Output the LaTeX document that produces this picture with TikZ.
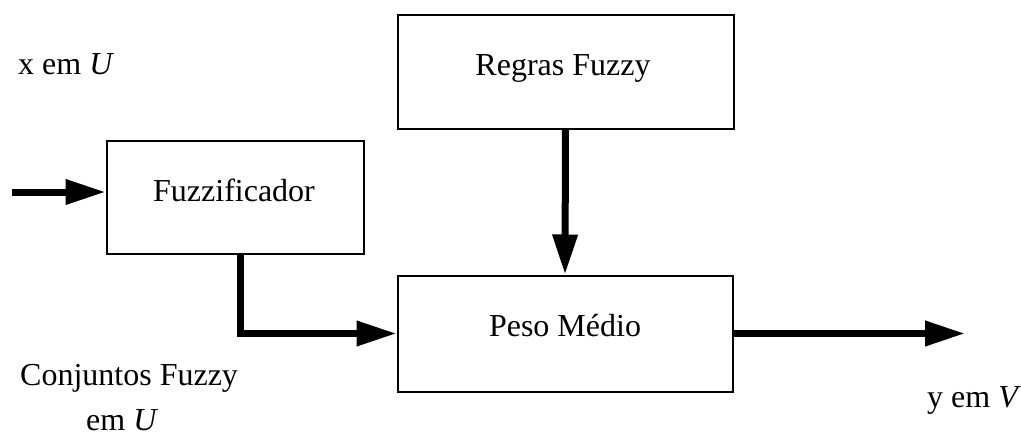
\documentclass[tikz,border=0pt]{standalone}
\usepackage{fontspec}
\setmainfont{Liberation Serif}
\usetikzlibrary{arrows.meta}
\begin{document}
\begin{tikzpicture}[x=1pt,y=-1pt,
  blockbox/.style={draw=black,line width=2pt,fill=white,inner sep=0pt},
  txt/.style={anchor=base,inner sep=0pt,font=\fontsize{32}{38}\selectfont},
  lbl/.style={anchor=base west,inner sep=0pt,font=\fontsize{32}{38}\selectfont},
  flow/.style={line width=7pt,-{Triangle[length=40pt,width=24pt]}}]
\useasboundingbox (0,0) rectangle (1021,445);
% blocks
\node[blockbox,minimum width=257pt,minimum height=113pt] (fuzz) at (235,197) {};
\node[blockbox,minimum width=336pt,minimum height=114pt] (regras) at (565.5,71.5) {};
\node[blockbox,minimum width=335pt,minimum height=116pt] (peso) at (565,333.5) {};
% block texts
\node[txt] (fuzztext) at (234,201) {Fuzzificador};
\node[txt] (regrastext) at (563,75) {Regras Fuzzy};
\node[txt] (pesotext) at (565,336) {Peso Médio};
% free ends
\coordinate (in) at (12,192);
\coordinate (out) at (965,333.5);
% connectors
\draw[flow] (in) -- (in -| fuzz.west);
\draw[flow] (regras.south) -- (peso.north);
\draw[flow] ([xshift=5pt]fuzz.south) |- (peso.west);
\draw[flow] (peso.east) -- (out);
% labels
\node[lbl] (xlabel) at (18,74) {x em \textit{U}};
\node[lbl] (conjlabel) at (20,385) {Conjuntos Fuzzy};
\node[lbl] (emlabel) at (86,430) {em \textit{U}};
\node[lbl] (ylabel) at (927,407) {y em \textit{V}};
\end{tikzpicture}
\end{document}
